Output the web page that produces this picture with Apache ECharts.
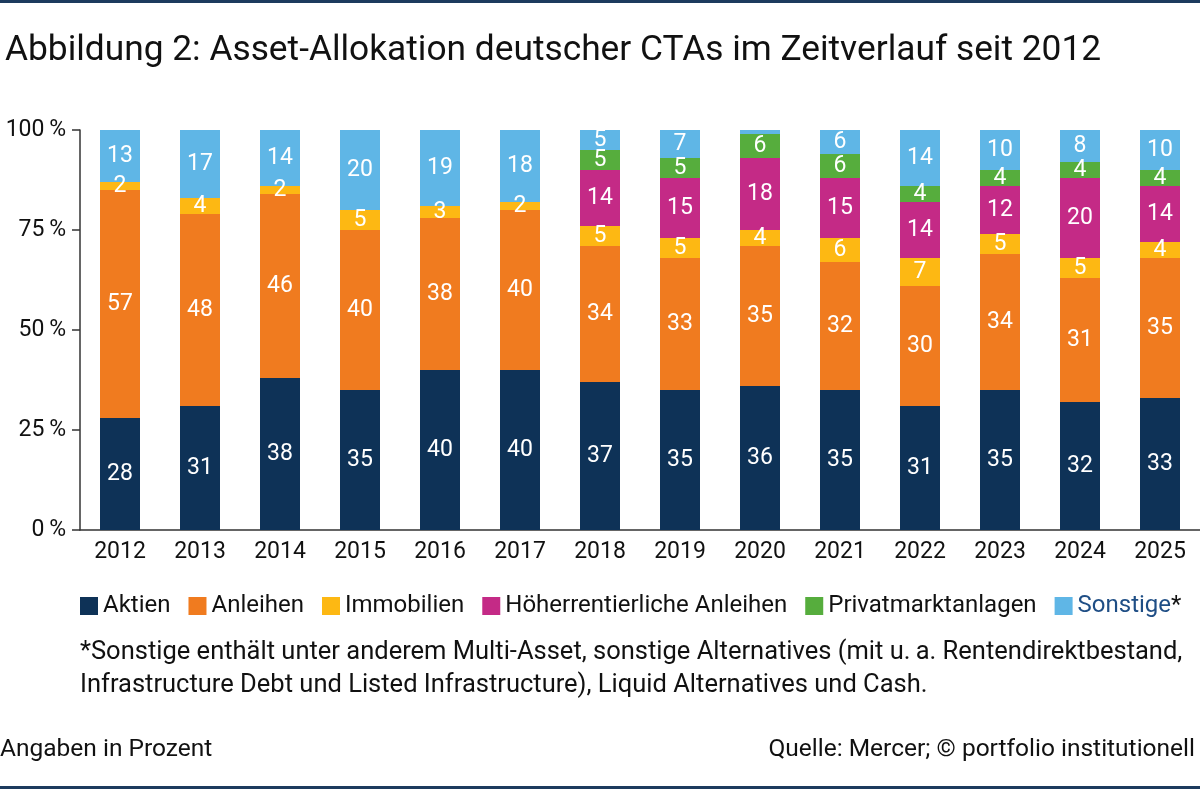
<!DOCTYPE html>
<html>
    <head>
        <meta charset="utf-8">
        <title>Asset-Allokation deutscher CTAs</title>
        <script src="https://cdn.jsdelivr.net/npm/echarts@6/dist/echarts.min.js"></script>
        <style>
            html, body { margin: 0; padding: 0; background: #fff; }
            #chart1 { width: 1200px; height: 790px; }
        </style>
    </head>
    <body>
        <div id="chart1"></div>
    </body>
    <script type="text/javascript">
        // Daten aus der Abbildung (Angaben in Prozent)
        var years = ['2012', '2013', '2014', '2015', '2016', '2017', '2018', '2019', '2020', '2021', '2022', '2023', '2024', '2025'];
        var aktien = [28, 31, 38, 35, 40, 40, 37, 35, 36, 35, 31, 35, 32, 33];
        var anleihen = [57, 48, 46, 40, 38, 40, 34, 33, 35, 32, 30, 34, 31, 35];
        var immobilien = [2, 4, 2, 5, 3, 2, 5, 5, 4, 6, 7, 5, 5, 4];
        var hoeher = [0, 0, 0, 0, 0, 0, 14, 15, 18, 15, 14, 12, 20, 14];
        var privat = [0, 0, 0, 0, 0, 0, 5, 5, 6, 6, 4, 4, 4, 4];
        var sonstige = [13, 17, 14, 20, 19, 18, 5, 7, 1, 6, 14, 10, 8, 10];
        var yTicks = [0, 25, 50, 75, 100];

        var font = 'Roboto';
        var myChart1 = echarts.init(document.getElementById('chart1'));

        function serie(name, data, color) {
            return {
                name: name,
                type: 'bar',
                stack: 'alle',
                barWidth: 40,
                data: data,
                itemStyle: { color: color },
                label: {
                    show: true,
                    position: 'inside',
                    color: '#fff',
                    fontFamily: font,
                    fontSize: 23,
                    formatter: function (p) { return p.value >= 2 ? p.value : ''; }
                }
            };
        }

        myChart1.setOption({
            animation: false,
            textStyle: { fontFamily: font },
            title: {
                text: 'Abbildung 2: Asset-Allokation deutscher CTAs im Zeitverlauf seit 2012',
                left: 0,
                top: 29,
                textStyle: { fontFamily: font, fontSize: 35.3, fontWeight: 'normal', color: '#111' }
            },
            legend: {
                left: 80,
                top: 594,
                width: 1120,
                padding: 0,
                itemWidth: 18,
                itemHeight: 18,
                itemGap: 18,
                icon: 'rect',
                textStyle: {
                    fontFamily: font, fontSize: 24, color: '#111',
                    rich: {
                        b: { fontFamily: font, fontSize: 24, color: '#1f4e85' },
                        s: { fontFamily: font, fontSize: 24, color: '#111' }
                    }
                },
                formatter: function (name) {
                    return name === 'Sonstige' ? '{b|Sonstige}{s|*}' : name;
                }
            },
            grid: { left: 80, right: 0, top: 130, height: 400 },
            xAxis: {
                type: 'category',
                data: years,
                axisTick: { show: false },
                axisLine: { lineStyle: { color: '#333', width: 1.5 } },
                axisLabel: { fontFamily: font, fontSize: 23, color: '#111', margin: 11 }
            },
            yAxis: {
                type: 'value',
                min: 0,
                max: 100,
                interval: 25,
                splitLine: { show: false },
                axisLine: { show: true, lineStyle: { color: '#333', width: 1.5 } },
                axisTick: { show: true, length: 8, lineStyle: { color: '#333', width: 1.5 } },
                axisLabel: {
                    fontFamily: font, fontSize: 23, color: '#111', margin: 14,
                    formatter: function (v) { return yTicks.indexOf(v) >= 0 ? v + '\u2009%' : ''; }
                }
            },
            series: [
                serie('Aktien', aktien, '#0e3257'),
                serie('Anleihen', anleihen, '#f07b1f'),
                serie('Immobilien', immobilien, '#fdb813'),
                serie('Höherrentierliche Anleihen', hoeher, '#c42a86'),
                serie('Privatmarktanlagen', privat, '#56ad3d'),
                serie('Sonstige', sonstige, '#5fb6e6')
            ],
            graphic: [
                { type: 'rect', shape: { x: 0, y: 0, width: 1200, height: 3 }, style: { fill: '#1d3b5e' } },
                { type: 'rect', shape: { x: 0, y: 786, width: 1200, height: 3 }, style: { fill: '#1d3b5e' } },
                {
                    type: 'text', left: 80, top: 636,
                    style: {
                        text: '*Sonstige enthält unter anderem Multi-Asset, sonstige Alternatives (mit u.\u2009a. Rentendirektbestand,\nInfrastructure Debt und Listed Infrastructure), Liquid Alternatives und Cash.',
                        font: '25.5px ' + font, fill: '#111', lineHeight: 33
                    }
                },
                { type: 'text', left: 0, top: 737, style: { text: 'Angaben in Prozent', font: '24.5px ' + font, fill: '#111' } },
                { type: 'text', right: 5, top: 737, style: { text: 'Quelle: Mercer; © portfolio institutionell', font: '24.5px ' + font, fill: '#111' } }
            ]
        });
    </script>
</html>
